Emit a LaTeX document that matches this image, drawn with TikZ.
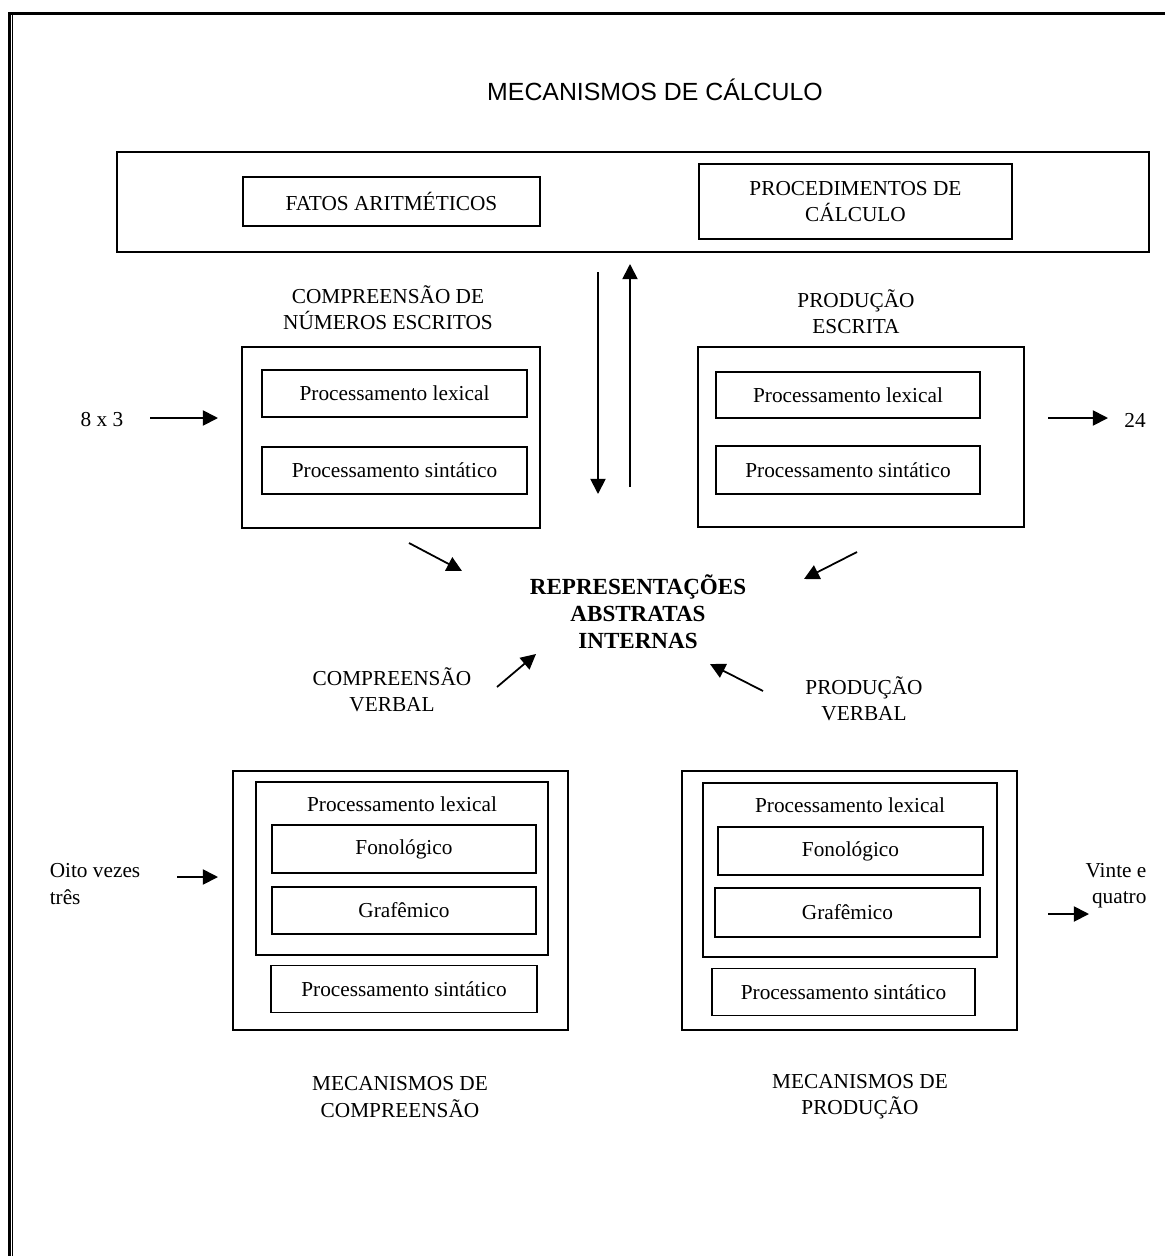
\documentclass[tikz,border=0pt]{standalone}
\usepackage{fontspec}
\setmainfont{Liberation Serif}
\newfontfamily\titlefont{Liberation Sans}
\usetikzlibrary{arrows.meta}
% one drawing unit (pixel) in points
\newcommand\pxu{*0.5634pt}
\begin{document}
\begin{tikzpicture}[x=0.5634pt,y=-0.5634pt,
  box/.style={draw, line width=1pt, inner sep=0pt,
    font=\fontsize{12}{14.8}\selectfont, align=center},
  lbl/.style={inner sep=0pt, font=\fontsize{12}{14.8}\selectfont, align=center},
  arr/.style={line width=1pt, -{Triangle[length=8.5pt,width=8.5pt]}}]
\useasboundingbox (0,0) rectangle (1165,1256);
\fill[white] (0,0) rectangle (1165,1256);
% page frame (top rule and double left rule)
\draw[line width=1.7pt] (8,13.5) -- (1165,13.5);
\draw[line width=1.7pt] (9.5,12) -- (9.5,1256);
\draw[line width=0.6pt] (12.5,15) -- (12.5,1256);

% title
\node[inner sep=0pt, font=\titlefont\fontsize{14}{16}\selectfont] (title) at (655,90) {MECANISMOS DE CÁLCULO};

% calculation mechanisms
\node[box, minimum width=1032\pxu, minimum height=100\pxu] (calc) at (633,202) {};
\node[box, minimum width=297\pxu, minimum height=49\pxu] (fatos) at (391.5,201.5) {FATOS ARITMÉTICOS};
\node[box, minimum width=313\pxu, minimum height=75\pxu] (proc) at (855.5,201.5) {PROCEDIMENTOS DE\\CÁLCULO};

% vertical exchange arrows
\coordinate (d1) at (598,272);
\coordinate (d2) at (598,494);
\coordinate (u1) at (630,487);
\coordinate (u2) at (630,264);
\draw[arr] (d1) -- (d2);
\draw[arr] (u1) -- (u2);

% written number comprehension
\node[lbl] (lcomp) at (388,308) {COMPREENSÃO DE\\NÚMEROS ESCRITOS};
\node[box, minimum width=298\pxu, minimum height=181\pxu] (wcomp) at (391,437.5) {};
\node[box, minimum width=265\pxu, minimum height=47\pxu] (wclex) at (394.5,393.5) {Processamento lexical};
\node[box, minimum width=265\pxu, minimum height=47\pxu] (wcsin) at (394.5,470.5) {Processamento sintático};
\node[lbl] (in1) at (102,420) {8 x 3};
\coordinate (a1s) at (150,418);
\coordinate (a1e) at (218,418);
\draw[arr] (a1s) -- (a1e);

% written production
\node[lbl] (lprod) at (856,312) {PRODUÇÃO\\ESCRITA};
\node[box, minimum width=326\pxu, minimum height=180\pxu] (wprod) at (861,437) {};
\node[box, minimum width=264\pxu, minimum height=46\pxu] (wplex) at (848,395) {Processamento lexical};
\node[box, minimum width=264\pxu, minimum height=48\pxu] (wpsin) at (848,470) {Processamento sintático};
\node[lbl] (out1) at (1135,420) {24};
\coordinate (a2s) at (1048,418);
\coordinate (a2e) at (1108,418);
\draw[arr] (a2s) -- (a2e);

% abstract internal representations
\node[inner sep=0pt, align=center, font=\bfseries\fontsize{13}{15.2}\selectfont] (rep) at (638,612) {REPRESENTAÇÕES\\ABSTRATAS\\INTERNAS};
\coordinate (b1s) at (409,543);
\coordinate (b1e) at (462,571);
\coordinate (b2s) at (857,552);
\coordinate (b2e) at (804,579);
\coordinate (b3s) at (497,687);
\coordinate (b3e) at (536,654);
\coordinate (b4s) at (763,691);
\coordinate (b4e) at (710,664);
\draw[arr] (b1s) -- (b1e);
\draw[arr] (b2s) -- (b2e);
\draw[arr] (b3s) -- (b3e);
\draw[arr] (b4s) -- (b4e);
\node[lbl] (lvcomp) at (392,690) {COMPREENSÃO\\VERBAL};
\node[lbl] (lvprod) at (864,699) {PRODUÇÃO\\VERBAL};

% comprehension mechanisms
\node[box, minimum width=335\pxu, minimum height=259\pxu] (vcomp) at (400.5,900.5) {};
\node[box, minimum width=292\pxu, minimum height=173\pxu] (vclex) at (402,868.5) {};
\node[lbl, anchor=base] (vclext) at (402,811) {Processamento lexical};
\node[box, minimum width=264\pxu, minimum height=48\pxu] (vcfon) at (404,849) {Fonológico};
\node[box, minimum width=264\pxu, minimum height=47\pxu] (vcgra) at (404,910.5) {Grafêmico};
\node[box, minimum width=266\pxu, minimum height=47\pxu] (vcsin) at (404,989) {Processamento sintático};
\node[lbl, align=left] (in2) at (95,884) {Oito vezes\\três};
\coordinate (c1s) at (177,877);
\coordinate (c1e) at (218,877);
\draw[arr] (c1s) -- (c1e);
\node[lbl] (lmcomp) at (400,1097) {MECANISMOS DE\\COMPREENSÃO};

% production mechanisms
\node[box, minimum width=335\pxu, minimum height=259\pxu] (vprod) at (849.5,900.5) {};
\node[box, minimum width=294\pxu, minimum height=174\pxu] (vplex) at (850,870) {};
\node[lbl, anchor=base] (vplext) at (850,812) {Processamento lexical};
\node[box, minimum width=265\pxu, minimum height=48\pxu] (vpfon) at (850.5,851) {Fonológico};
\node[box, minimum width=265\pxu, minimum height=49\pxu] (vpgra) at (847.5,912.5) {Grafêmico};
\node[box, minimum width=263\pxu, minimum height=47\pxu] (vpsin) at (843.5,992) {Processamento sintático};
\node[lbl, align=right] (out2) at (1116,886) {Vinte e\\quatro};
\coordinate (c2s) at (1048,914);
\coordinate (c2e) at (1089,914);
\draw[arr] (c2s) -- (c2e);
\node[lbl] (lmprod) at (860,1097) {MECANISMOS DE\\PRODUÇÃO};
\end{tikzpicture}
\end{document}
